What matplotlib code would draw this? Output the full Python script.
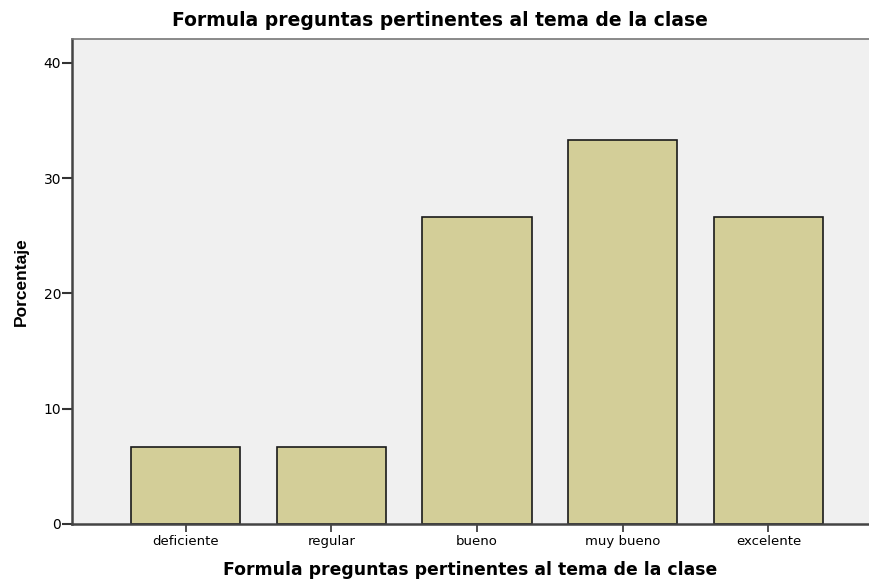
import matplotlib
matplotlib.use("Agg")
import matplotlib.pyplot as plt
import numpy as np

categories = ["deficiente", "regular", "bueno", "muy bueno", "excelente"]
porcentaje = [6.67, 6.67, 26.67, 33.33, 26.67]
y_ticks = [0, 10, 20, 30, 40]
title = "Formula preguntas pertinentes al tema de la clase"

plt.rcParams["font.family"] = ["Liberation Sans", "DejaVu Sans"]

fig = plt.figure(figsize=(8.69, 5.79), dpi=100)
ax = fig.add_axes([0.083, 0.095, 0.917, 0.838])
ax.set_facecolor("#f0f0f0")

x = np.arange(len(categories))
ax.bar(x, porcentaje, width=0.75, color="#d3ce98", edgecolor="#1a1a1a", linewidth=1.2, zorder=2)

ax.set_xlim(-0.78, 4.69)
ax.set_ylim(0, 42.1)
ax.set_xticks(x)
ax.set_xticklabels(categories, fontsize=9.5, family="DejaVu Sans")
ax.set_yticks(y_ticks)
ax.set_yticklabels([str(v) for v in y_ticks], fontsize=10, family="DejaVu Sans")
ax.tick_params(axis="y", length=7, width=1.5, color="#333333", pad=1)
ax.tick_params(axis="x", length=6, width=1.2, color="#333333", pad=2)

for side in ["left", "bottom"]:
    ax.spines[side].set_color("#444444")
    ax.spines[side].set_linewidth(1.8)
ax.spines["top"].set_color("#777777")
ax.spines["top"].set_linewidth(1.2)
ax.spines["right"].set_visible(False)

# centre title over the figure like the original
fig.text(0.506, 0.965, title, ha="center", va="center", fontsize=13.5,
         fontweight="bold", family="DejaVu Sans")
ax.set_xlabel(title, fontsize=12.4, fontweight="bold", family="DejaVu Sans", labelpad=9)
ax.set_ylabel("Porcentaje", fontsize=12.5, fontweight="bold")
ax.yaxis.set_label_coords(-0.054, 0.5)

fig.savefig("out.png", dpi=100)
